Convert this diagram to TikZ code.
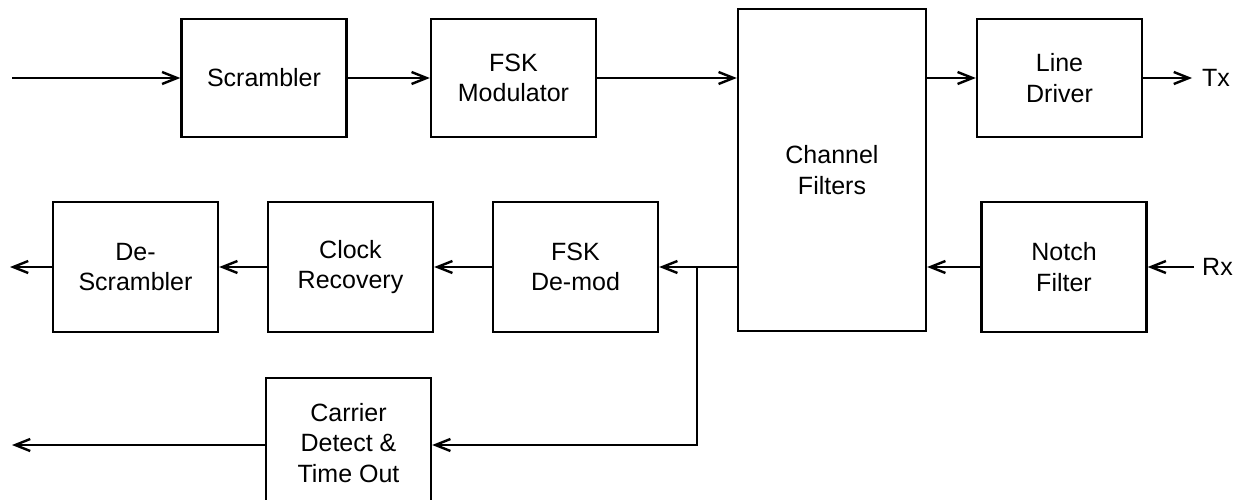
\documentclass[tikz,border=0pt]{standalone}
\usepackage{fontspec}
\setmainfont{Liberation Sans}
\usetikzlibrary{arrows.meta}
\begin{document}
\begin{tikzpicture}[x=1pt,y=-1pt,
 blk/.style={draw,line width=2.4pt,inner sep=0pt,align=center,minimum width=165pt,minimum height=130pt,font=\fontsize{25}{30.5}\selectfont},
 conn/.style={line width=2.4pt,-{Straight Barb[length=15pt,width=12pt,line width=2.4pt]}},
 lbl/.style={font=\fontsize{25}{30.5}\selectfont,inner sep=0pt,anchor=west}]
\clip (0,0) rectangle (1242,500);
% row 1
\node[blk,minimum height=118pt] (scr) at (264,78) {Scrambler};
\node[blk,minimum height=118pt] (mod) at (513.5,78) {FSK\\Modulator};
\node[blk,minimum width=188pt,minimum height=322pt] (chan) at (832,170) {Channel\\Filters};
\node[blk,minimum height=118pt] (ld) at (1059.5,78) {Line\\Driver};
% row 2
\node[blk] (nf) at (1064,267) {Notch\\Filter};
\node[blk] (dem) at (575.5,267) {FSK\\De-mod};
\node[blk] (clk) at (350.5,267) {Clock\\Recovery};
\node[blk] (dsc) at (135.5,267) {De-\\Scrambler};
% row 3
\node[blk] (car) at (348.5,443) {Carrier\\Detect \&\\Time Out};
% free ends
\coordinate (in) at (12,78);
\coordinate (tx) at (1192,78);
\coordinate (rx) at (1194,267);
\coordinate (r2) at (0,267);
\coordinate (r3) at (0,445);
\coordinate (j) at (697,267);
\coordinate (dout) at (10,267);
\coordinate (cout) at (12,445);
\node[lbl] (txl) at (1202,78) {Tx};
\node[lbl] (rxl) at (1202,267) {Rx};
% connectors
\draw[conn] (in) -- (scr.west);
\draw[conn] (scr.east) -- (mod.west);
\draw[conn] (mod.east) -- (mod.east -| chan.west);
\draw[conn] (ld.west -| chan.east) -- (ld.west);
\draw[conn] (ld.east) -- (tx);
\draw[conn] (rx) -- (nf.east |- rx);
\draw[conn] (nf.west |- r2) -- (chan.east |- r2);
\draw[conn] (chan.west |- r2) -- (dem.east |- r2);
\draw[conn] (dem.west |- r2) -- (clk.east |- r2);
\draw[conn] (clk.west |- r2) -- (dsc.east |- r2);
\draw[conn] (dsc.west |- r2) -- (dout);
\draw[conn] (j) |- (car.east |- r3);
\draw[conn] (car.west |- r3) -- (cout);
\end{tikzpicture}
\end{document}
